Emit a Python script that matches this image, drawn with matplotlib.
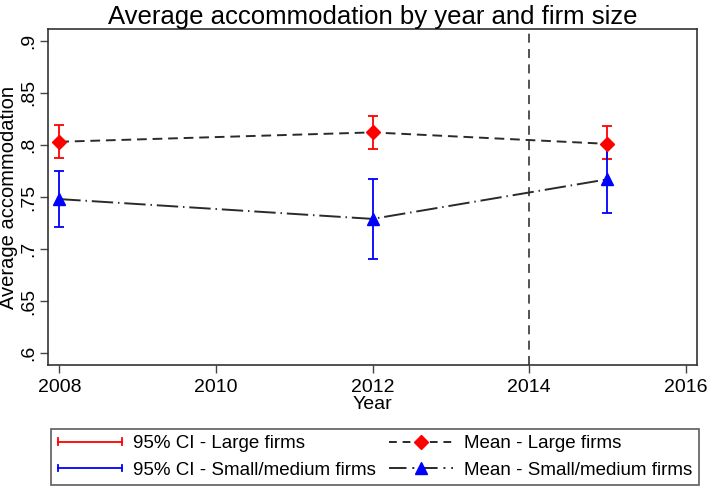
import matplotlib.pyplot as plt
from matplotlib.lines import Line2D
from matplotlib.legend_handler import HandlerBase

plt.rcParams['font.family'] = ['Liberation Sans', 'DejaVu Sans']

years = [2008, 2012, 2015]
large_mean = [0.803, 0.812, 0.801]
large_lo = [0.787, 0.796, 0.786]
large_hi = [0.819, 0.828, 0.818]
small_mean = [0.748, 0.729, 0.767]
small_lo = [0.721, 0.691, 0.735]
small_hi = [0.775, 0.767, 0.800]
xticks = [2008, 2010, 2012, 2014, 2016]
yticks = [0.6, 0.65, 0.7, 0.75, 0.8, 0.85, 0.9]
ylabels = ['.6', '.65', '.7', '.75', '.8', '.85', '.9']

LINE = '#2a2a2a'
DASH = (0, (5, 3))
DASHDOT = (0, (11, 2.5, 0.75, 2.5))


class CIHandler(HandlerBase):
    # horizontal line with caps at both ends
    def create_artists(self, legend, orig, xd, yd, w, h, fs, trans):
        c = orig.get_color()
        y = h / 2 - yd
        x0, x1 = -xd, -xd + w
        arts = [Line2D([x0, x1], [y, y], color=c, lw=1.3),
                Line2D([x0, x0], [y - h * 0.25, y + h * 0.25], color=c, lw=1.3),
                Line2D([x1, x1], [y - h * 0.25, y + h * 0.25], color=c, lw=1.3)]
        for a in arts:
            a.set_transform(trans)
        return arts


fig = plt.figure(figsize=(7.09, 4.91), dpi=100)
ax = fig.add_axes([0.0677, 0.2566, 0.9154, 0.6843])

def err(m, lo, hi):
    return [[a - b for a, b in zip(m, lo)], [b - a for a, b in zip(m, hi)]]

ax.axvline(2014, color='#444444', ls=(0, (5, 3.5)), lw=1.3)

ax.plot(years, large_mean, color=LINE, ls=DASH, lw=1.4)
ax.plot(years, small_mean, color=LINE, ls=DASHDOT, lw=1.4)
ax.errorbar(years, large_mean, yerr=err(large_mean, large_lo, large_hi), fmt='none',
            ecolor='red', elinewidth=1.3, capsize=3.8, capthick=1.3)
ax.errorbar(years, small_mean, yerr=err(small_mean, small_lo, small_hi), fmt='none',
            ecolor='blue', elinewidth=1.3, capsize=3.8, capthick=1.3)
ax.plot(years, large_mean, 'D', color='red', ms=7.5, ls='none')
ax.plot(years, small_mean, '^', color='blue', ms=8.5, ls='none')

ax.set_xlim(2007.856, 2016.144)
ax.set_ylim(0.5888, 0.9112)
ax.set_xticks(xticks)
ax.set_yticks(yticks)
ax.set_yticklabels(ylabels, rotation=90, va='center')
ax.tick_params(labelsize=14, length=6, width=1, direction='out', color='#444444')
ax.tick_params(axis='y', pad=2)
ax.tick_params(axis='x', pad=4)
ax.set_xlabel('Year', fontsize=14, labelpad=0)
ax.set_ylabel('Average accommodation', fontsize=14.5, labelpad=1)
ax.set_title('Average accommodation by year and firm size', fontsize=18.5, pad=2)
for s in ax.spines.values():
    s.set_linewidth(1.2)
    s.set_color('#333333')

h_ci_l = Line2D([], [], color='red')
h_ci_s = Line2D([], [], color='blue')
h_m_l = Line2D([], [], color=LINE, ls=(0, (4, 3)), lw=1.4, marker='D', mfc='red', mec='red', ms=7.5)
h_m_s = Line2D([], [], color=LINE, ls=(0, (9, 3, 1, 3)), lw=1.4, marker='^', mfc='blue', mec='blue', ms=8.5)
leg = fig.legend([h_ci_l, h_ci_s, h_m_l, h_m_s],
                 ['95% CI - Large firms', '95% CI - Small/medium firms',
                  'Mean - Large firms', 'Mean - Small/medium firms'],
                 handler_map={h_ci_l: CIHandler(), h_ci_s: CIHandler()},
                 ncol=2, loc='lower center', bbox_to_anchor=(0.529, 0.004),
                 fontsize=13.5, frameon=True, fancybox=False, edgecolor='#333333',
                 handlelength=3.4, columnspacing=0.7, handletextpad=0.6,
                 labelspacing=0.5, borderpad=0.35, borderaxespad=0.2)
leg.get_frame().set_linewidth(1.2)

fig.savefig('out.png', dpi=100)
